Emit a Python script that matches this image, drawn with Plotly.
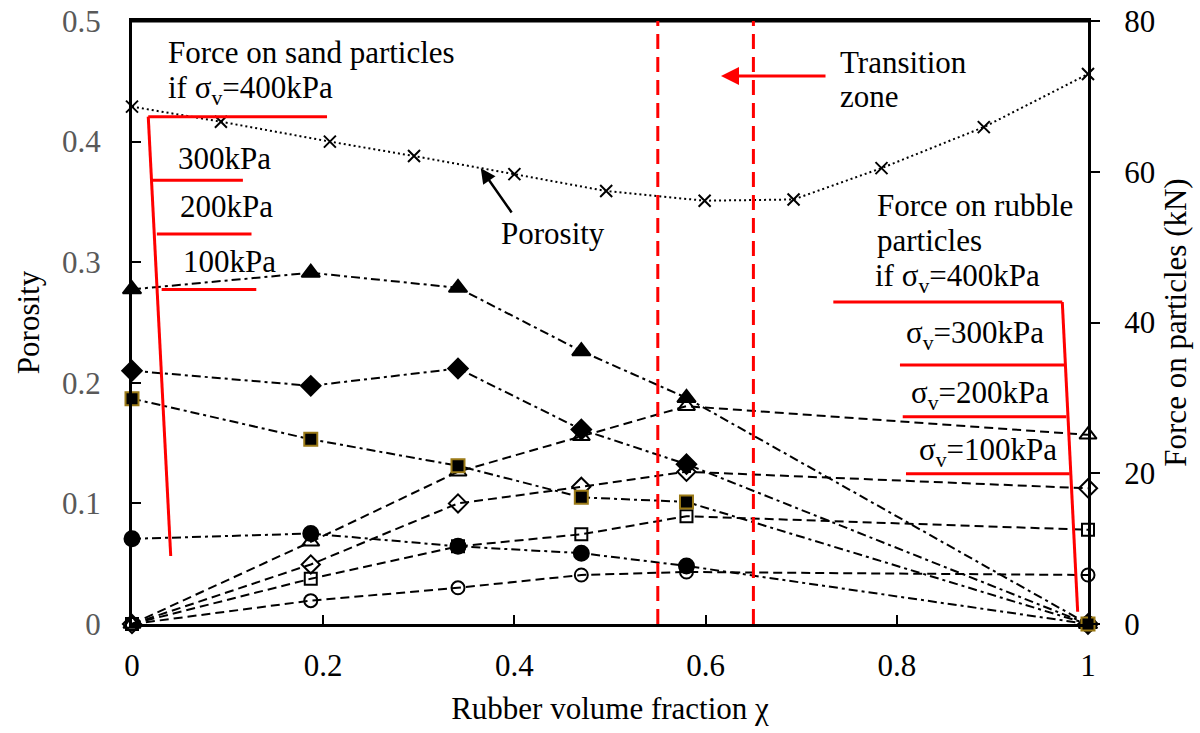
import plotly.graph_objects as go

# ---- data -------------------------------------------------------------
porosity_x = [0, 0.093, 0.207, 0.295, 0.40, 0.496, 0.599, 0.692, 0.784, 0.891, 1.0]
porosity = [0.429, 0.4165, 0.400, 0.388, 0.373, 0.359, 0.351, 0.352, 0.378, 0.412, 0.456]

force_x = [0, 0.187, 0.341, 0.470, 0.580, 1.0]

# force on sand particles (kN)
sand_400 = [44.4, 46.6, 44.6, 36.2, 30.0, 0]
sand_300 = [33.6, 31.6, 33.9, 25.8, 21.2, 0]
sand_200 = [29.9, 24.5, 21.0, 16.8, 16.2, 0]
sand_100 = [11.3, 12.0, 10.3, 9.4, 7.7, 0]

# force on rubble particles (kN)
rubble_400 = [0, 10.9, 20.2, 24.9, 28.9, 25.1]
rubble_300 = [0, 7.9, 16.0, 18.2, 20.2, 18.0]
rubble_200 = [0, 6.0, 10.3, 11.9, 14.3, 12.5]
rubble_100 = [0, 3.1, 4.8, 6.5, 6.9, 6.5]

transition_bounds = [0.55, 0.65]

x_ticks = [0, 0.2, 0.4, 0.6, 0.8, 1.0]
x_ticktext = ["0", "0.2", "0.4", "0.6", "0.8", "1"]

# ---- styling ----------------------------------------------------------
FONT = "Liberation Serif, Times New Roman, serif"
FS = 31
RED = "#ff0000"
GOLD = "#9b7a17"
DASHDOT = "9px,4px,3px,4px"
DASHED = "9px,5px"

fig = go.Figure()

fig.add_trace(go.Scatter(
    x=porosity_x, y=porosity, yaxis="y", mode="lines+markers",
    line=dict(color="black", width=2, dash="2px,3px"),
    marker=dict(symbol="x-thin", size=12, line=dict(color="black", width=2)),
    cliponaxis=False, name="Porosity"))

# rubble forces: dashed lines, open markers
rubble = [(rubble_400, "triangle-up-open", 15), (rubble_300, "diamond-open", 14),
          (rubble_200, "square-open", 12), (rubble_100, "circle-open", 13)]
for vals, sym, sz in rubble:
    fig.add_trace(go.Scatter(
        x=force_x, y=vals, yaxis="y2", mode="lines+markers",
        line=dict(color="black", width=2, dash=DASHED),
        marker=dict(symbol=sym, size=sz, color="black",
                    line=dict(color="black", width=2)),
        cliponaxis=False))

# sand forces: dash-dot lines, filled markers
sand = [(sand_100, "circle", 15, "black"), (sand_400, "triangle-up", 16, "black"),
        (sand_300, "diamond", 15, "black"), (sand_200, "square", 13, GOLD)]
for vals, sym, sz, edge in sand:
    fig.add_trace(go.Scatter(
        x=force_x, y=vals, yaxis="y2", mode="lines+markers",
        line=dict(color="black", width=2, dash=DASHDOT),
        marker=dict(symbol=sym, size=sz, color="black",
                    line=dict(color=edge, width=2)),
        cliponaxis=False))

shapes = [
    # top frame line
    dict(type="line", xref="paper", yref="paper", x0=0, x1=1, y0=1, y1=1,
         line=dict(color="black", width=3)),
]
for xb in transition_bounds:
    shapes.append(dict(type="line", xref="x", yref="y", x0=xb, x1=xb, y0=0, y1=0.5,
                       line=dict(color=RED, width=3, dash="15px,8px")))

# bracket lines for the sand-force labels
left_bracket = [
    (0.017, 0.4207, 0.204, 0.4207),
    (0.017, 0.4207, 0.0405, 0.0564),
    (0.0206, 0.368, 0.116, 0.368),
    (0.026, 0.3234, 0.125, 0.3234),
    (0.031, 0.2774, 0.130, 0.2774),
]
# bracket lines for the rubble-force labels
right_bracket = [
    (0.7336, 0.267, 0.9731, 0.267),
    (0.9731, 0.267, 0.9892, 0.0102),
    (0.8033, 0.2148, 0.9752, 0.2148),
    (0.8062, 0.1719, 0.9774, 0.1719),
    (0.8096, 0.1246, 0.9808, 0.1246),
]
for x0, y0, x1, y1 in left_bracket + right_bracket:
    shapes.append(dict(type="line", xref="x", yref="y", x0=x0, y0=y0, x1=x1, y1=y1,
                       line=dict(color=RED, width=3)))

def label(text, x, y, anchor="left"):
    return dict(text=text, x=x, y=y, xref="x", yref="y", showarrow=False,
                xanchor=anchor, yanchor="middle",
                font=dict(family=FONT, size=FS, color="black"))

annotations = [
    label("Force on sand particles", 0.0356, 0.4735),
    label("if σ<sub>v</sub>=400kPa", 0.0356, 0.4428),
    label("300kPa", 0.046, 0.3856),
    label("200kPa", 0.048, 0.3458),
    label("100kPa", 0.0513, 0.3002),
    label("Force on rubble", 0.777, 0.3474),
    label("particles", 0.777, 0.3184),
    label("if σ<sub>v</sub>=400kPa", 0.775, 0.2869),
    label("σ<sub>v</sub>=300kPa", 0.956, 0.2396, "right"),
    label("σ<sub>v</sub>=200kPa", 0.961, 0.1899, "right"),
    label("σ<sub>v</sub>=100kPa", 0.9696, 0.1426, "right"),
    label("Transition", 0.7385, 0.466),
    label("zone", 0.7385, 0.437),
    label("Porosity", 0.384, 0.3234),
    dict(text="", x=0.3648, y=0.3779, ax=0.3982, ay=0.34, xref="x", yref="y",
         axref="x", ayref="y", showarrow=True, arrowhead=2, arrowsize=1.2,
         arrowwidth=2.5, arrowcolor="black"),
    dict(text="", x=0.6161, y=0.4544, ax=0.727, ay=0.4544, xref="x", yref="y",
         axref="x", ayref="y", showarrow=True, arrowhead=2, arrowsize=1.2,
         arrowwidth=3, arrowcolor=RED),
]

fig.update_layout(
    width=1200, height=733,
    margin=dict(l=132, r=112, t=21, b=109, autoexpand=False),
    paper_bgcolor="white", plot_bgcolor="white",
    showlegend=False,
    font=dict(family=FONT, size=FS, color="black"),
    shapes=shapes, annotations=annotations,
    xaxis=dict(range=[0, 1], tickvals=x_ticks, ticktext=x_ticktext,
               ticks="inside", ticklen=9, tickwidth=2, tickcolor="black",
               showline=True, linewidth=3, linecolor="black", mirror=True,
               showgrid=False, zeroline=False, ticklabelstandoff=12,
               automargin=False,
               tickfont=dict(family=FONT, size=FS, color="black"),
               title=dict(text="Rubber volume fraction χ", standoff=16,
                          font=dict(family=FONT, size=FS))),
    yaxis=dict(range=[0, 0.5], dtick=0.1, ticks="inside", ticklen=9, tickwidth=2,
               tickcolor="black", showline=True, linewidth=3, linecolor="black",
               showgrid=False, zeroline=False, ticklabelstandoff=22,
               automargin=False,
               tickfont=dict(family=FONT, size=FS, color="#595959"),
               title=dict(text="Porosity", standoff=14,
                          font=dict(family=FONT, size=FS))),
    yaxis2=dict(range=[0, 80], dtick=20, overlaying="y", side="right",
                ticks="outside", ticklen=9, tickwidth=2, tickcolor="black",
                showline=True, linewidth=3, linecolor="black",
                showgrid=False, zeroline=False, ticklabelstandoff=18,
                automargin=False,
                tickfont=dict(family=FONT, size=FS, color="black"),
                title=dict(text="Force on particles (kN)", standoff=11,
                           font=dict(family=FONT, size=FS))),
)

fig.write_html("out.html")
